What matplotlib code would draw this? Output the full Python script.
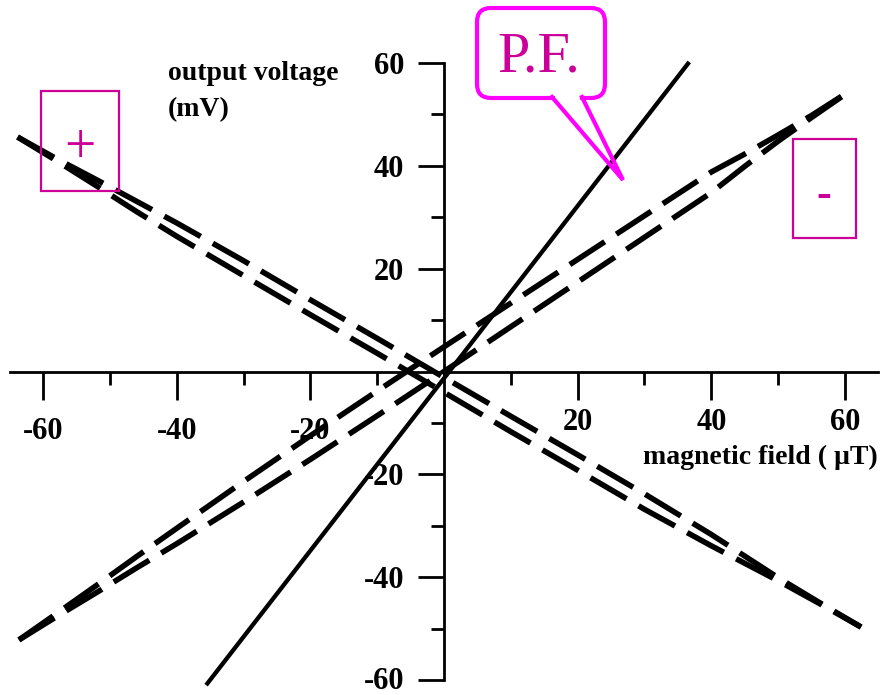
import matplotlib
matplotlib.use('Agg')
import matplotlib.pyplot as plt
from matplotlib.patches import FancyBboxPatch, Rectangle
from matplotlib.lines import Line2D

# ---------------- data ----------------
# rising dashed pair ("-" sensor)
pos_x = [-63.6, -58, -52, -46, -40, -30, -20, -10, 0, 10, 20, 30, 40, 45, 50, 55, 60.9]
pos_upper = [-52.2, -47.1, -41.6, -36.0, -30.5, -21.4, -12.5, -3.8, 4.8, 13.3, 21.8, 30.3, 38.8, 42.3, 46.0, 49.8, 54.7]
pos_lower = [-52.2, -47.7, -43.0, -38.2, -33.5, -25.4, -17.1, -8.6, 0.0, 8.7, 17.4, 26.1, 34.8, 39.9, 44.8, 49.4, 54.7]

# falling dashed pair ("+" sensor)
neg_x = [-63.8, -58, -52, -46, -40, -30, -20, -10, 0, 10, 20, 30, 40, 45, 50, 56, 62.4]
neg_upper = [45.6, 41.4, 37.3, 33.1, 28.9, 21.55, 13.95, 6.45, -1.15, -8.7, -16.2, -23.8, -31.7, -35.9, -40.1, -44.8, -49.7]
neg_lower = [45.6, 41.0, 36.1, 31.1, 26.3, 18.65, 11.05, 3.55, -4.05, -11.7, -19.2, -26.8, -33.9, -37.3, -40.7, -45.0, -49.7]

# solid P.F. line
pf_x = [-35.6, 36.7]
pf_y = [-61.0, 60.2]

x_major = [-60, -40, -20, 20, 40, 60]
x_minor = [-50, -30, -10, 10, 30, 50]
y_major = [-60, -40, -20, 20, 40, 60]
y_minor = [-50, -30, -10, 10, 30, 50]
x_tick_labels = ['-60', '-40', '-20', '20', '40', '60']
y_tick_labels = ['-60', '-40', '-20', '20', '40', '60']
x_label = 'magnetic field ( \u00b5T)'
y_label_1 = 'output voltage'
y_label_2 = '(mV)'
bubble_text = 'P.F.'
plus_text = '+'
minus_text = '-'

# ---------------- figure ----------------
W, H = 882, 695
SERIF = ['Liberation Serif', 'DejaVu Serif']
plt.rcParams['font.family'] = SERIF
plt.rcParams['lines.scale_dashes'] = False

fig = plt.figure(figsize=(W / 100, H / 100), dpi=100)
fig.patch.set_facecolor('white')
ax = fig.add_axes([9.6 / W, 15 / H, 868.8 / W, 617 / H])
ax.set_xlim(-65, 65)
ax.set_ylim(-60, 60)
ax.patch.set_visible(False)

for s in ['top', 'right']:
    ax.spines[s].set_visible(False)
ax.spines['left'].set_position(('data', 0))
ax.spines['bottom'].set_position(('data', 0))
for s in ['left', 'bottom']:
    ax.spines[s].set_linewidth(2.0)
    ax.spines[s].set_color('black')

ax.set_xticks(x_major)
ax.set_xticks(x_minor, minor=True)
ax.set_xticklabels([])
ax.set_yticks(y_major)
ax.set_yticks(y_minor, minor=True)
ax.set_yticklabels([])
ax.tick_params(axis='x', which='major', direction='out', length=20, width=2)
ax.tick_params(axis='x', which='minor', direction='out', length=9.5, width=2)
ax.tick_params(axis='y', which='major', direction='out', length=18.5, width=2)
ax.tick_params(axis='y', which='minor', direction='out', length=9.5, width=2)

for v, lab in zip(x_major, x_tick_labels):
    off = -43.5 if v < 0 else -37
    ax.annotate(lab, xy=(v, 0), xytext=(0, off), textcoords='offset points',
                ha='center', va='center', fontsize=22, fontweight='bold', family=SERIF)

for v, lab in zip(y_major, y_tick_labels):
    dy = 1.5 if v == -60 else 0
    ax.annotate(lab, xy=(0, v), xytext=(-28.5, dy), textcoords='offset points',
                ha='right', va='center_baseline', fontsize=22, fontweight='bold', family=SERIF)

dash = (30, 10)
for xs, ys in [(neg_x, neg_upper), (neg_x, neg_lower), (pos_x, pos_upper), (pos_x, pos_lower)]:
    ln, = ax.plot(xs, ys, color='black', lw=4.0, clip_on=False, zorder=3,
                  solid_capstyle='butt', dash_capstyle='butt')
    ln.set_dashes(dash)

ax.plot(pf_x, pf_y, color='black', lw=3.1, clip_on=False, zorder=3, solid_capstyle='butt')

# ---------------- overlay in pixel coordinates ----------------
ov = fig.add_axes([0, 0, 1, 1])
ov.set_xlim(0, W)
ov.set_ylim(H, 0)
ov.axis('off')
ov.patch.set_visible(False)

ov.text(168, 73, y_label_1, ha='left', va='center', fontsize=20, fontweight='bold', family=SERIF)
ov.text(168, 110, y_label_2, ha='left', va='center', fontsize=20, fontweight='bold', family=SERIF)
ov.text(643, 457, x_label, ha='left', va='center', fontsize=20, fontweight='bold', family=SERIF)

mag_dark = '#CC0099'
mag = '#FF00FF'
ov.add_patch(Rectangle((40.7, 91), 78.3, 99.7, fill=False, ec=mag_dark, lw=1.6))
ov.text(80, 149, plus_text, ha='center', va='center', fontsize=40, color=mag_dark, family=SERIF)
ov.add_patch(Rectangle((793, 139), 63, 99, fill=False, ec=mag_dark, lw=1.6))
ov.text(824, 196, minus_text, ha='center', va='center', fontsize=32, fontweight='bold', color=mag_dark, family=SERIF)

ov.add_patch(FancyBboxPatch((477, 8), 128, 90, boxstyle='round,pad=0,rounding_size=14',
                            lw=3, ec=mag, fc='white', zorder=2))
ov.add_patch(Rectangle((555, 93), 25, 9, fc='white', ec='none', zorder=3))
ov.add_line(Line2D([552, 623, 582], [97, 180, 97], color=mag, lw=3, zorder=4,
                   solid_joinstyle='miter'))
ov.text(539, 57, bubble_text, ha='center', va='center', fontsize=42, color=mag_dark, family=SERIF, zorder=5)

fig.savefig('out.png', dpi=100)
